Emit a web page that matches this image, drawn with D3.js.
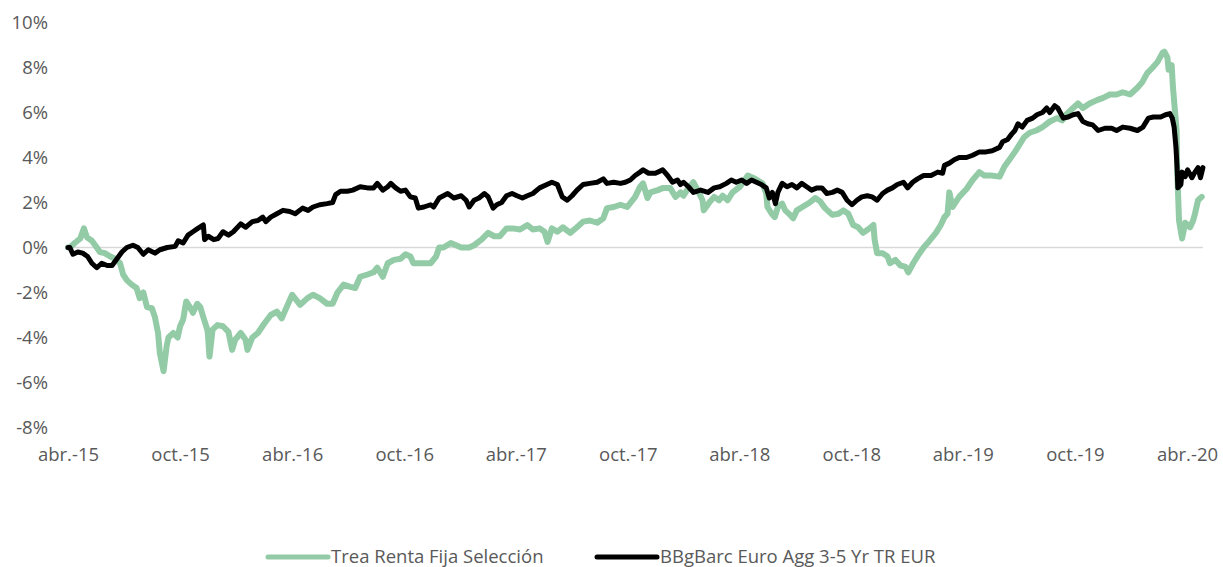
<!DOCTYPE html>
<html>
<head>
<meta charset="utf-8">
<script src="https://cdn.jsdelivr.net/npm/d3@7"></script>
<style>
  body { margin: 0; background: #fff; }
  svg { display: block; font-family: "Open Sans", Lato, sans-serif; }
</style>
</head>
<body>
<svg></svg>
<script>
const width = 1223;
const height = 567;

// Trea Renta Fija Selección (cumulative %)
const treaData = [
  ['2015-04-01', 0.0], ['2015-04-04', 0.0], ['2015-04-12', 0.2], ['2015-04-21', 0.4], ['2015-04-27', 0.85],
  ['2015-05-02', 0.45], ['2015-05-10', 0.3], ['2015-05-18', 0.0], ['2015-05-23', -0.2], ['2015-05-31', -0.25],
  ['2015-06-09', -0.4], ['2015-06-17', -0.5], ['2015-06-25', -0.7], ['2015-06-30', -1.2], ['2015-07-06', -1.45],
  ['2015-07-14', -1.65], ['2015-07-22', -1.8], ['2015-07-27', -2.25], ['2015-08-02', -2.0], ['2015-08-08', -2.65],
  ['2015-08-16', -2.7], ['2015-08-21', -3.1], ['2015-08-26', -3.8], ['2015-08-29', -4.7], ['2015-09-04', -5.5],
  ['2015-09-09', -4.4], ['2015-09-12', -4.0], ['2015-09-20', -3.8], ['2015-09-27', -4.0], ['2015-10-01', -3.5],
  ['2015-10-06', -3.2], ['2015-10-11', -2.4], ['2015-10-17', -2.65], ['2015-10-22', -2.9], ['2015-10-29', -2.5],
  ['2015-11-03', -2.65], ['2015-11-08', -3.1], ['2015-11-15', -3.7], ['2015-11-18', -4.85], ['2015-11-23', -3.65],
  ['2015-12-01', -3.45], ['2015-12-10', -3.5], ['2015-12-19', -3.75], ['2015-12-25', -4.55], ['2015-12-30', -4.1],
  ['2016-01-08', -3.8], ['2016-01-16', -4.1], ['2016-01-19', -4.55], ['2016-01-27', -4.0], ['2016-02-05', -3.8],
  ['2016-02-15', -3.4], ['2016-02-26', -3.0], ['2016-03-07', -2.85], ['2016-03-15', -3.15], ['2016-03-23', -2.65],
  ['2016-04-01', -2.1], ['2016-04-14', -2.55], ['2016-04-26', -2.25], ['2016-05-05', -2.1], ['2016-05-16', -2.25],
  ['2016-05-28', -2.5], ['2016-06-06', -2.5], ['2016-06-14', -2.0], ['2016-06-24', -1.65], ['2016-07-05', -1.75],
  ['2016-07-13', -1.8], ['2016-07-21', -1.3], ['2016-08-02', -1.2], ['2016-08-12', -1.1], ['2016-08-18', -0.9],
  ['2016-08-27', -1.3], ['2016-09-04', -0.7], ['2016-09-14', -0.55], ['2016-09-25', -0.5], ['2016-10-03', -0.3],
  ['2016-10-11', -0.4], ['2016-10-16', -0.7], ['2016-10-28', -0.7], ['2016-11-13', -0.7], ['2016-11-22', -0.4],
  ['2016-11-27', 0.0], ['2016-12-04', 0.0], ['2016-12-16', 0.2], ['2017-01-02', 0.0], ['2017-01-15', 0.0],
  ['2017-01-23', 0.1], ['2017-02-04', 0.35], ['2017-02-15', 0.65], ['2017-02-25', 0.5], ['2017-03-06', 0.5],
  ['2017-03-17', 0.85], ['2017-03-27', 0.85], ['2017-04-08', 0.8], ['2017-04-20', 1.0], ['2017-04-29', 0.8],
  ['2017-05-10', 0.85], ['2017-05-18', 0.7], ['2017-05-23', 0.25], ['2017-05-30', 0.85], ['2017-06-08', 0.7],
  ['2017-06-17', 0.9], ['2017-06-29', 0.65], ['2017-07-10', 0.9], ['2017-07-20', 1.15], ['2017-07-31', 1.2],
  ['2017-08-12', 1.1], ['2017-08-22', 1.3], ['2017-08-28', 1.75], ['2017-09-08', 1.8], ['2017-09-19', 1.9],
  ['2017-09-30', 1.8], ['2017-10-13', 2.25], ['2017-10-21', 2.7], ['2017-10-26', 2.85], ['2017-11-02', 2.2],
  ['2017-11-07', 2.45], ['2017-11-19', 2.55], ['2017-11-28', 2.65], ['2017-12-09', 2.65], ['2017-12-18', 2.25],
  ['2017-12-26', 2.45], ['2017-12-31', 2.3], ['2018-01-08', 2.65], ['2018-01-16', 2.9], ['2018-01-23', 2.55],
  ['2018-01-31', 2.1], ['2018-02-02', 1.65], ['2018-02-11', 2.0], ['2018-02-19', 2.25], ['2018-02-27', 2.1],
  ['2018-03-05', 2.3], ['2018-03-13', 2.1], ['2018-03-21', 2.45], ['2018-04-02', 2.7], ['2018-04-10', 3.0],
  ['2018-04-15', 3.2], ['2018-04-23', 3.1], ['2018-04-30', 3.0], ['2018-05-09', 2.85], ['2018-05-15', 2.4],
  ['2018-05-17', 1.8], ['2018-05-24', 1.5], ['2018-05-29', 1.35], ['2018-06-03', 1.8], ['2018-06-10', 1.95],
  ['2018-06-15', 1.65], ['2018-06-23', 1.45], ['2018-06-28', 1.3], ['2018-07-04', 1.65], ['2018-07-13', 1.8],
  ['2018-07-25', 2.0], ['2018-08-03', 2.2], ['2018-08-11', 2.05], ['2018-08-19', 1.75], ['2018-08-31', 1.45],
  ['2018-09-10', 1.5], ['2018-09-18', 1.65], ['2018-09-26', 1.5], ['2018-10-04', 1.0], ['2018-10-12', 0.9],
  ['2018-10-20', 0.65], ['2018-10-28', 0.8], ['2018-11-06', 1.0], ['2018-11-08', 0.35], ['2018-11-12', -0.25],
  ['2018-11-21', -0.25], ['2018-11-29', -0.4], ['2018-12-03', -0.7], ['2018-12-12', -0.55], ['2018-12-20', -0.8],
  ['2018-12-28', -0.85], ['2019-01-02', -1.1], ['2019-01-10', -0.7], ['2019-01-18', -0.35], ['2019-01-27', 0.0],
  ['2019-02-04', 0.25], ['2019-02-16', 0.65], ['2019-02-24', 1.0], ['2019-03-02', 1.35], ['2019-03-07', 1.5],
  ['2019-03-10', 2.45], ['2019-03-15', 1.8], ['2019-03-26', 2.25], ['2019-04-07', 2.6], ['2019-04-17', 3.0],
  ['2019-04-28', 3.35], ['2019-05-06', 3.2], ['2019-05-17', 3.2], ['2019-05-31', 3.15], ['2019-06-08', 3.6],
  ['2019-06-16', 3.9], ['2019-06-25', 4.25], ['2019-07-02', 4.55], ['2019-07-10', 4.9], ['2019-07-19', 5.1],
  ['2019-07-30', 5.2], ['2019-08-09', 5.35], ['2019-08-21', 5.6], ['2019-09-02', 5.75], ['2019-09-10', 5.65],
  ['2019-09-18', 5.95], ['2019-09-28', 6.2], ['2019-10-06', 6.4], ['2019-10-14', 6.2], ['2019-10-25', 6.4],
  ['2019-11-06', 6.55], ['2019-11-16', 6.65], ['2019-11-27', 6.8], ['2019-12-08', 6.8], ['2019-12-18', 6.9],
  ['2019-12-30', 6.8], ['2020-01-11', 7.1], ['2020-01-19', 7.35], ['2020-01-27', 7.75], ['2020-02-05', 8.0],
  ['2020-02-13', 8.25], ['2020-02-21', 8.65], ['2020-02-24', 8.7], ['2020-02-29', 8.45], ['2020-03-02', 7.9],
  ['2020-03-07', 8.1], ['2020-03-09', 7.15], ['2020-03-15', 5.2], ['2020-03-16', 3.45], ['2020-03-19', 1.2],
  ['2020-03-24', 0.4], ['2020-03-29', 1.1], ['2020-04-06', 0.9], ['2020-04-11', 1.2], ['2020-04-14', 1.5],
  ['2020-04-19', 2.1], ['2020-04-25', 2.25]
];

// BBgBarc Euro Agg 3-5 Yr TR EUR (cumulative %)
const bbgData = [
  ['2015-04-01', 0.0], ['2015-04-04', 0.0], ['2015-04-09', -0.3], ['2015-04-17', -0.2], ['2015-04-25', -0.25],
  ['2015-05-03', -0.4], ['2015-05-10', -0.7], ['2015-05-18', -0.9], ['2015-05-26', -0.7], ['2015-06-04', -0.8],
  ['2015-06-12', -0.8], ['2015-06-20', -0.5], ['2015-06-28', -0.2], ['2015-07-06', 0.0], ['2015-07-16', 0.1],
  ['2015-07-24', 0.0], ['2015-08-02', -0.3], ['2015-08-10', -0.1], ['2015-08-21', -0.25], ['2015-08-29', -0.1],
  ['2015-09-10', 0.0], ['2015-09-23', 0.05], ['2015-09-28', 0.3], ['2015-10-06', 0.2], ['2015-10-14', 0.55],
  ['2015-10-22', 0.7], ['2015-10-30', 0.85], ['2015-11-08', 1.0], ['2015-11-10', 0.35], ['2015-11-16', 0.5],
  ['2015-11-25', 0.35], ['2015-12-02', 0.4], ['2015-12-10', 0.7], ['2015-12-19', 0.55], ['2015-12-27', 0.7],
  ['2016-01-08', 1.05], ['2016-01-16', 0.9], ['2016-01-27', 1.15], ['2016-02-05', 1.2], ['2016-02-13', 1.35],
  ['2016-02-18', 1.15], ['2016-02-26', 1.35], ['2016-03-07', 1.5], ['2016-03-17', 1.65], ['2016-03-28', 1.6],
  ['2016-04-06', 1.5], ['2016-04-18', 1.75], ['2016-04-27', 1.65], ['2016-05-05', 1.8], ['2016-05-16', 1.9],
  ['2016-05-28', 1.95], ['2016-06-06', 2.0], ['2016-06-11', 2.35], ['2016-06-19', 2.5], ['2016-06-30', 2.5],
  ['2016-07-09', 2.55], ['2016-07-21', 2.7], ['2016-08-02', 2.65], ['2016-08-12', 2.65], ['2016-08-18', 2.85],
  ['2016-08-27', 2.55], ['2016-09-04', 2.7], ['2016-09-09', 2.85], ['2016-09-17', 2.65], ['2016-09-25', 2.5],
  ['2016-10-03', 2.55], ['2016-10-11', 2.25], ['2016-10-19', 2.2], ['2016-10-24', 1.75], ['2016-11-02', 1.8],
  ['2016-11-13', 1.9], ['2016-11-18', 1.8], ['2016-11-27', 2.2], ['2016-12-04', 2.3], ['2016-12-11', 2.4],
  ['2016-12-21', 2.2], ['2017-01-02', 2.3], ['2017-01-10', 2.1], ['2017-01-15', 1.8], ['2017-01-23', 2.1],
  ['2017-01-31', 2.2], ['2017-02-09', 2.4], ['2017-02-15', 2.25], ['2017-02-23', 1.75], ['2017-03-01', 1.9],
  ['2017-03-09', 2.0], ['2017-03-17', 2.3], ['2017-03-26', 2.4], ['2017-04-03', 2.3], ['2017-04-12', 2.2],
  ['2017-04-20', 2.3], ['2017-04-29', 2.4], ['2017-05-10', 2.65], ['2017-05-22', 2.8], ['2017-05-30', 2.9],
  ['2017-06-08', 2.8], ['2017-06-16', 2.25], ['2017-06-24', 2.1], ['2017-07-02', 2.3], ['2017-07-10', 2.55],
  ['2017-07-20', 2.8], ['2017-07-31', 2.85], ['2017-08-12', 2.9], ['2017-08-22', 3.05], ['2017-08-28', 2.85],
  ['2017-09-08', 2.9], ['2017-09-19', 2.85], ['2017-09-27', 2.9], ['2017-10-05', 3.0], ['2017-10-13', 3.2],
  ['2017-10-21', 3.35], ['2017-10-26', 3.45], ['2017-11-04', 3.3], ['2017-11-15', 3.3], ['2017-11-27', 3.45],
  ['2017-12-05', 3.2], ['2017-12-13', 2.9], ['2017-12-21', 3.0], ['2017-12-26', 2.8], ['2017-12-31', 2.9],
  ['2018-01-08', 2.7], ['2018-01-16', 2.45], ['2018-01-28', 2.55], ['2018-02-09', 2.45], ['2018-02-19', 2.65],
  ['2018-02-28', 2.7], ['2018-03-11', 2.85], ['2018-03-19', 3.0], ['2018-03-27', 2.9], ['2018-04-05', 3.0],
  ['2018-04-13', 2.85], ['2018-04-21', 3.0], ['2018-04-29', 2.9], ['2018-05-07', 2.8], ['2018-05-15', 2.65],
  ['2018-05-20', 2.2], ['2018-05-25', 2.45], ['2018-05-30', 1.95], ['2018-06-03', 2.45], ['2018-06-10', 2.85],
  ['2018-06-18', 2.7], ['2018-06-26', 2.8], ['2018-07-04', 2.65], ['2018-07-12', 2.85], ['2018-07-20', 2.7],
  ['2018-07-28', 2.55], ['2018-08-06', 2.65], ['2018-08-14', 2.65], ['2018-08-22', 2.4], ['2018-08-31', 2.45],
  ['2018-09-08', 2.55], ['2018-09-16', 2.45], ['2018-09-24', 2.1], ['2018-10-02', 1.9], ['2018-10-10', 2.1],
  ['2018-10-18', 2.25], ['2018-10-27', 2.3], ['2018-11-04', 2.25], ['2018-11-12', 2.1], ['2018-11-21', 2.4],
  ['2018-11-29', 2.55], ['2018-12-07', 2.65], ['2018-12-15', 2.8], ['2018-12-25', 2.9], ['2019-01-01', 2.65],
  ['2019-01-09', 2.9], ['2019-01-17', 3.05], ['2019-01-27', 3.2], ['2019-02-08', 3.2], ['2019-02-19', 3.35],
  ['2019-02-27', 3.3], ['2019-03-02', 3.65], ['2019-03-10', 3.75], ['2019-03-18', 3.9], ['2019-03-26', 4.0],
  ['2019-04-07', 4.0], ['2019-04-17', 4.1], ['2019-04-28', 4.25], ['2019-05-09', 4.25], ['2019-05-19', 4.3],
  ['2019-05-31', 4.45], ['2019-06-05', 4.7], ['2019-06-13', 4.8], ['2019-06-20', 5.05], ['2019-06-25', 5.2],
  ['2019-06-30', 5.5], ['2019-07-07', 5.35], ['2019-07-15', 5.65], ['2019-07-24', 5.75], ['2019-07-31', 5.9],
  ['2019-08-09', 6.0], ['2019-08-16', 6.2], ['2019-08-21', 6.0], ['2019-08-29', 6.3], ['2019-09-03', 6.2],
  ['2019-09-12', 5.75], ['2019-09-20', 5.8], ['2019-09-28', 5.9], ['2019-10-06', 5.95], ['2019-10-14', 5.6],
  ['2019-10-22', 5.5], ['2019-10-30', 5.45], ['2019-11-08', 5.2], ['2019-11-19', 5.3], ['2019-11-30', 5.3],
  ['2019-12-08', 5.2], ['2019-12-18', 5.35], ['2019-12-30', 5.3], ['2020-01-11', 5.2], ['2020-01-20', 5.35],
  ['2020-01-29', 5.75], ['2020-02-06', 5.8], ['2020-02-18', 5.8], ['2020-02-26', 5.9], ['2020-03-04', 5.95],
  ['2020-03-08', 5.75], ['2020-03-11', 5.35], ['2020-03-14', 4.45], ['2020-03-16', 3.45], ['2020-03-17', 2.65],
  ['2020-03-22', 2.8], ['2020-03-24', 3.35], ['2020-03-29', 3.15], ['2020-04-02', 3.45], ['2020-04-09', 3.1],
  ['2020-04-14', 3.35], ['2020-04-19', 3.55], ['2020-04-23', 3.1], ['2020-04-27', 3.55]
];

const yTicks = [-8, -6, -4, -2, 0, 2, 4, 6, 8, 10];
const xTickDates = ['2015-04-01', '2015-10-01', '2016-04-01', '2016-10-01', '2017-04-01', '2017-10-01',
  '2018-04-01', '2018-10-01', '2019-04-01', '2019-10-01', '2020-04-01'];
const xTickLabels = ['abr.-15', 'oct.-15', 'abr.-16', 'oct.-16', 'abr.-17', 'oct.-17',
  'abr.-18', 'oct.-18', 'abr.-19', 'oct.-19', 'abr.-20'];
const seriesNames = ['Trea Renta Fija Selección', 'BBgBarc Euro Agg 3-5 Yr TR EUR'];
const seriesColors = ['#92cba6', '#000000'];

const parse = d3.timeParse('%Y-%m-%d');

const svg = d3.select('svg')
  .attr('width', width)
  .attr('height', height);

const x = d3.scaleTime()
  .domain([parse('2015-04-01'), parse('2020-04-01')])
  .range([68, 1187]);

const y = d3.scaleLinear()
  .domain([-8, 10])
  .range([427.5, 22.5]);

// y tick labels
const yAxis = d3.axisLeft(y)
  .tickValues(yTicks)
  .tickFormat(d => d + '%')
  .tickSize(0)
  .tickPadding(0);

const gy = svg.append('g')
  .attr('transform', 'translate(48,0)')
  .call(yAxis);
gy.select('.domain').remove();
gy.selectAll('text')
  .attr('fill', '#595959')
  .style('font-size', '18.5px')
  .style('font-family', '"Open Sans", Lato, sans-serif');

// x tick labels, sitting below the plot
const xAxis = d3.axisBottom(x)
  .tickValues(xTickDates.map(parse))
  .tickFormat((d, i) => xTickLabels[i])
  .tickSize(0)
  .tickPadding(0);

const gx = svg.append('g')
  .attr('transform', 'translate(0,448)')
  .call(xAxis);
gx.select('.domain').remove();
gx.selectAll('text')
  .attr('fill', '#595959')
  .style('font-size', '18.5px')
  .style('font-family', '"Open Sans", Lato, sans-serif');

// zero line
const lastDate = d3.max(treaData.concat(bbgData), d => parse(d[0]));
svg.append('line')
  .attr('x1', x(parse('2015-04-01')))
  .attr('x2', x(lastDate))
  .attr('y1', y(0))
  .attr('y2', y(0))
  .attr('stroke', '#d9d9d9')
  .attr('stroke-width', 1.5);

const line = d3.line()
  .x(d => x(parse(d[0])))
  .y(d => y(d[1]));

svg.append('path')
  .datum(treaData)
  .attr('d', line)
  .attr('fill', 'none')
  .attr('stroke', seriesColors[0])
  .attr('stroke-width', 6)
  .attr('stroke-linejoin', 'round')
  .attr('stroke-linecap', 'round');

svg.append('path')
  .datum(bbgData)
  .attr('d', line)
  .attr('fill', 'none')
  .attr('stroke', seriesColors[1])
  .attr('stroke-width', 5)
  .attr('stroke-linejoin', 'round')
  .attr('stroke-linecap', 'round');

// legend
const legendX = [268, 597];
const legend = svg.append('g');
seriesNames.forEach((name, i) => {
  legend.append('line')
    .attr('x1', legendX[i])
    .attr('x2', legendX[i] + 60)
    .attr('y1', 557)
    .attr('y2', 557)
    .attr('stroke', seriesColors[i])
    .attr('stroke-width', 5)
    .attr('stroke-linecap', 'round');
  legend.append('text')
    .attr('x', legendX[i] + 63)
    .attr('y', 563)
    .attr('fill', '#595959')
    .style('font-size', '18.5px')
    .text(name);
});
</script>
</body>
</html>
